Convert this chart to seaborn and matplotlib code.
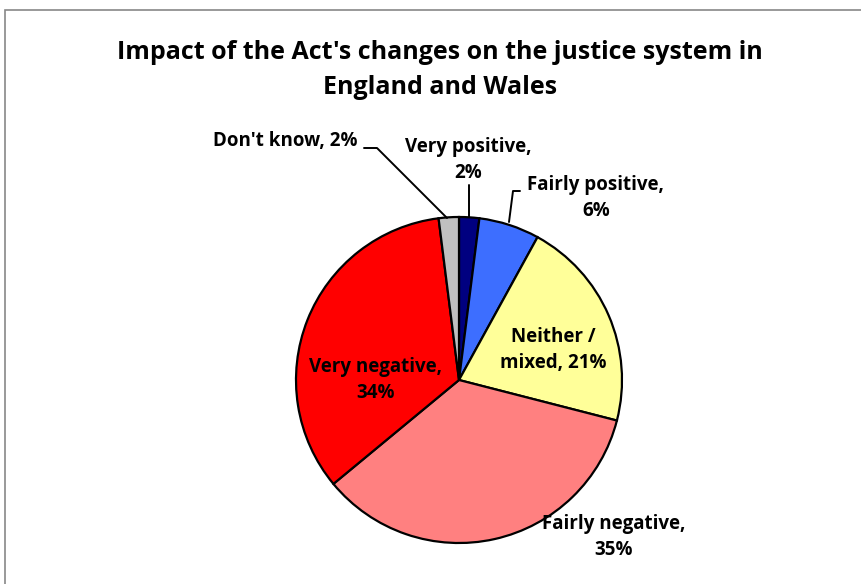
import matplotlib
matplotlib.use("Agg")
import matplotlib.pyplot as plt
import seaborn as sns
from matplotlib.patches import Rectangle
from matplotlib import font_manager

sns.set_theme(style="white")

categories = ["Very positive", "Fairly positive", "Neither / mixed", "Fairly negative", "Very negative", "Don't know"]
values = [2, 6, 21, 35, 34, 2]
colors = ["#000080", "#3D6EFF", "#FFFF99", "#FF8080", "#FF0000", "#C0C0C0"]
label_texts = ["Very positive,\n2%", "Fairly positive,\n6%", "Neither /\nmixed, 21%",
               "Fairly negative,\n35%", "Very negative,\n34%", "Don't know, 2%"]
title = "Impact of the Act's changes on the justice system in\nEngland and Wales"

names = {f.name for f in font_manager.fontManager.ttflist}
fam = "Liberation Sans Narrow" if "Liberation Sans Narrow" in names else "Open Sans"
plt.rcParams['font.family'] = [fam, 'DejaVu Sans']
plt.rcParams['text.color'] = 'black'

W, H = 862, 584
fig = plt.figure(figsize=(W / 100, H / 100), dpi=100)
ax = fig.add_axes([0, 0, 1, 1])

cx, cy, r = 459, H - 380, 163
wedges, _ = ax.pie(values, colors=colors, startangle=90, counterclock=False,
                   center=(cx, cy), radius=r, frame=True,
                   wedgeprops=dict(edgecolor="black", linewidth=1.6))
ax.set_xlim(0, W)
ax.set_ylim(0, H)
ax.set_aspect("equal")
ax.axis("off")

def P(x, y):
    return (x, H - y)

fs = 13.5
kw = dict(fontsize=fs, fontweight="bold", color="black", ha="center", va="center", linespacing=1.45)

ax.text(*P(468, 160), label_texts[0], **kw)
ax.text(*P(596, 198), label_texts[1], **kw)
ax.text(*P(553, 350), label_texts[2], **kw)
ax.text(*P(614, 537), label_texts[3], **kw)
ax.text(*P(376, 380), label_texts[4], **kw)
ax.text(*P(285, 141), label_texts[5], **kw)

lk = dict(color="black", linewidth=1.4)
ax.plot(*zip(P(469, 185), P(469, 217)), **lk)
ax.plot(*zip(P(520, 191), P(513, 191), P(509, 222)), **lk)
ax.plot(*zip(P(364, 148), P(377, 148), P(447, 218)), **lk)

fig.text(440 / W, 1 - 70 / H, title, fontsize=18, fontweight="bold", color="black",
         ha="center", va="center", linespacing=1.5)

fig.add_artist(Rectangle((5 / W, -0.01), 1.2, 1 - 10 / H + 0.01, transform=fig.transFigure,
                         fill=False, edgecolor="#888888", linewidth=1.2))

fig.savefig("out.png", dpi=100)
